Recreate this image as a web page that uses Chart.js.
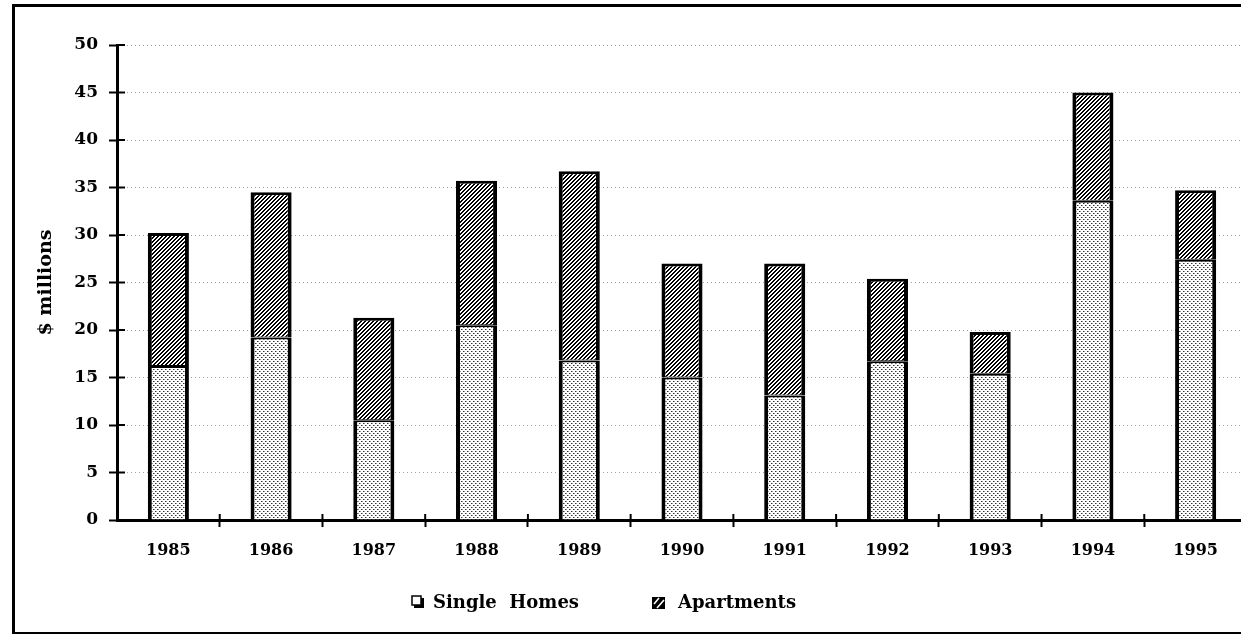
<!DOCTYPE html>
<html>
<head>
<meta charset="utf-8">
<title>Single Homes and Apartments</title>
<script src="https://cdn.jsdelivr.net/npm/chart.js@4/dist/chart.umd.min.js"></script>
<style>
  html, body { margin: 0; padding: 0; background: #fff; overflow: hidden; width: 1241px; height: 637px; }
  #frame {
    position: absolute;
    left: 12px;
    top: 4px;
    width: 1240px;
    height: 625px;
    border-top: 3px solid #000;
    border-left: 3px solid #000;
    border-bottom: 2px solid #000;
  }
  #chart { display: block; }
</style>
</head>
<body>
<div id="frame"><canvas id="chart" width="1232" height="625"></canvas></div>
<script>
const years = ['1985', '1986', '1987', '1988', '1989', '1990', '1991', '1992', '1993', '1994', '1995']
const singleHomes = [16.2, 19.2, 10.5, 20.5, 16.8, 15.0, 13.1, 16.7, 15.4, 33.6, 27.4]
const apartments = [14.0, 15.3, 10.8, 15.2, 19.9, 12.0, 13.9, 8.7, 4.4, 11.4, 7.3]
const yTicks = [0, 5, 10, 15, 20, 25, 30, 35, 40, 45, 50]

const FONT = '"DejaVu Serif", "Liberation Serif", serif'

// small tiles for the stipple and the hatching
function makePattern(size, draw) {
  const c = document.createElement('canvas')
  c.width = size
  c.height = size
  const g = c.getContext('2d')
  draw(g)
  return g.createPattern(c, 'repeat')
}

const ctx = document.getElementById('chart').getContext('2d')

const stipple = makePattern(4, g => {
  g.fillStyle = '#fff'
  g.fillRect(0, 0, 4, 4)
  g.fillStyle = '#333'
  g.fillRect(0, 0, 1, 1)
  g.fillRect(2, 2, 1, 1)
  g.fillStyle = '#999'
  g.fillRect(1, 0, 1, 1)
  g.fillRect(3, 2, 1, 1)
})

const hatch = makePattern(4, g => {
  g.fillStyle = '#fff'
  g.fillRect(0, 0, 4, 4)
  g.fillStyle = '#000'
  for (let i = 0; i < 4; i++) {
    g.fillRect(i, 3 - i, 1, 1)
    g.fillRect(i, (4 - i) % 4, 1, 1)
  }
})

// tick marks that cross the axis lines, like the original
const crossTicks = {
  id: 'crossTicks',
  afterDraw(chart) {
    const { ctx, scales: { x, y } } = chart
    ctx.save()
    ctx.strokeStyle = '#000'
    ctx.lineWidth = 2
    y.ticks.forEach((t, i) => {
      const py = y.getPixelForTick(i)
      ctx.beginPath()
      ctx.moveTo(y.right, py)
      ctx.lineTo(y.right + 8, py)
      ctx.stroke()
    })
    const step = x.getPixelForTick(1) - x.getPixelForTick(0)
    for (let i = 1; i < years.length; i++) {
      const px = x.getPixelForTick(i) - step / 2
      ctx.beginPath()
      ctx.moveTo(px, x.top - 6)
      ctx.lineTo(px, x.top)
      ctx.stroke()
    }
    ctx.restore()
  }
}

// legend drawn by hand so the boxes look like the original
const boxLegend = {
  id: 'boxLegend',
  afterDraw(chart) {
    const { ctx } = chart
    const cy = 596
    ctx.save()
    ctx.font = `bold 18px ${FONT}`
    ctx.textBaseline = 'middle'
    ctx.fillStyle = '#000'

    // Single Homes: white box with a shadow
    ctx.fillRect(399, cy - 5, 10, 10)
    ctx.fillStyle = '#fff'
    ctx.strokeStyle = '#000'
    ctx.lineWidth = 1.5
    ctx.fillRect(397, cy - 7, 9, 9)
    ctx.strokeRect(397, cy - 7, 9, 9)
    ctx.fillStyle = '#000'
    ctx.fillText('Single  Homes', 418, cy)

    // Apartments: dark box with white stripes
    ctx.fillRect(637, cy - 6, 13, 12)
    ctx.strokeStyle = '#fff'
    ctx.lineWidth = 1.6
    ctx.beginPath()
    ctx.moveTo(639, cy + 1); ctx.lineTo(644, cy - 5)
    ctx.moveTo(642, cy + 5); ctx.lineTo(649, cy - 3)
    ctx.stroke()
    ctx.fillStyle = '#000'
    ctx.fillText('Apartments', 663, cy)
    ctx.restore()
  }
}

new Chart(ctx, {
  type: 'bar',
  data: {
    labels: years,
    datasets: [
      {
        label: 'Single Homes',
        data: singleHomes,
        backgroundColor: stipple,
        borderColor: '#000',
        borderWidth: { left: 4, right: 4, top: 2, bottom: 0 },
        borderSkipped: false,
        categoryPercentage: 1,
        barPercentage: 0.4
      },
      {
        label: 'Apartments',
        data: apartments,
        backgroundColor: hatch,
        borderColor: '#000',
        borderWidth: { left: 4, right: 4, top: 3, bottom: 1 },
        borderSkipped: false,
        categoryPercentage: 1,
        barPercentage: 0.4
      }
    ]
  },
  options: {
    responsive: false,
    animation: false,
    layout: { padding: { top: 38, right: 0, left: 0, bottom: 0 } },
    plugins: {
      legend: { display: false },
      tooltip: { enabled: false }
    },
    scales: {
      x: {
        stacked: true,
        afterFit: scale => { scale.height = 112 },
        grid: {
          offset: true,
          drawOnChartArea: false,
          tickLength: 7,
          // no tick below the origin, only between the years
          tickColor: c => (c.index === 0 ? 'rgba(0,0,0,0)' : '#000'),
          tickWidth: 2
        },
        border: { color: '#000', width: 3 },
        ticks: {
          color: '#000',
          padding: 14,
          font: { family: FONT, weight: 'bold', size: 16 }
        }
      },
      y: {
        stacked: true,
        min: 0,
        max: 50,
        afterFit: scale => { scale.width = 102 },
        afterBuildTicks: scale => { scale.ticks = yTicks.map(v => ({ value: v })) },
        grid: {
          color: '#a0a0a0',
          lineWidth: 1,
          tickLength: 8,
          tickColor: '#000',
          tickWidth: 2
        },
        border: { color: '#000', width: 3, dash: [1, 3] },
        ticks: {
          color: '#000',
          padding: 11,
          font: { family: FONT, weight: 'bold', size: 17 }
        },
        title: {
          display: true,
          text: '$ millions',
          color: '#000',
          padding: { top: 20, bottom: 0 },
          font: { family: FONT, weight: 'bold', size: 19 }
        }
      }
    }
  },
  plugins: [crossTicks, boxLegend]
})
</script>
</body>
</html>
